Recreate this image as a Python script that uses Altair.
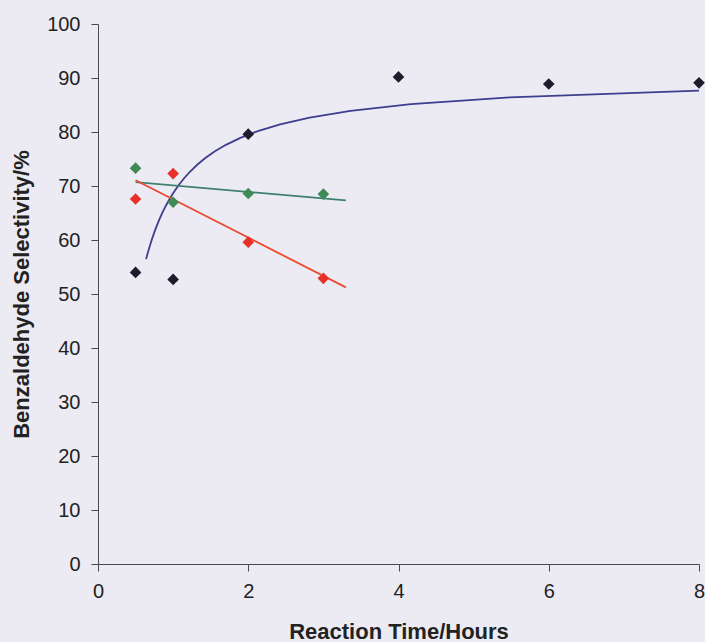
import altair as alt
import pandas as pd

# --- data ---
black_x = [0.5, 1, 2, 4, 6, 8]
black_y = [54.0, 52.7, 79.6, 90.2, 88.9, 89.1]

green_x = [0.5, 1, 2, 3]
green_y = [73.3, 67.0, 68.6, 68.5]

red_x = [0.5, 1, 2, 3]
red_y = [67.6, 72.3, 59.6, 52.9]

x_ticks = [0, 2, 4, 6, 8]
y_ticks = [0, 10, 20, 30, 40, 50, 60, 70, 80, 90, 100]

black = pd.DataFrame({"t": black_x, "sel": black_y})
green = pd.DataFrame({"t": green_x, "sel": green_y})
red = pd.DataFrame({"t": red_x, "sel": red_y})

FONT = "Liberation Sans"
AXIS_COLOR = "#4a4a4a"

xscale = alt.Scale(domain=[0, 8], nice=False, zero=False)
yscale = alt.Scale(domain=[0, 100], nice=False)

xaxis = alt.Axis(
    values=x_ticks, title="Reaction Time/Hours", grid=False,
    domainColor=AXIS_COLOR, tickColor=AXIS_COLOR, tickSize=7,
    labelFont=FONT, labelFontSize=20, labelColor="#222222", labelPadding=10,
    labelFlush=False,
    titleFont=FONT, titleFontSize=22, titleFontWeight="bold", titleColor="#222222",
    titleBaseline="alphabetic", titleY=74,
)
yaxis = alt.Axis(
    values=y_ticks, title="Benzaldehyde Selectivity/%", grid=False,
    domainColor=AXIS_COLOR, tickColor=AXIS_COLOR, tickSize=7,
    labelFont=FONT, labelFontSize=20, labelColor="#222222", labelPadding=11,
    labelFlush=False,
    titleFont=FONT, titleFontSize=22, titleFontWeight="bold", titleColor="#222222",
    titleAngle=-90, titleBaseline="alphabetic", titleAlign="center",
    titleX=-70, titleY=270,
)

X = alt.X("t:Q", scale=xscale, axis=xaxis)
Y = alt.Y("sel:Q", scale=yscale, axis=yaxis)

# fitted curve for black series (linear in 1/t)
curve = (
    alt.Chart(black)
    .transform_calculate(u="1 / datum.t")
    .transform_regression("u", "sel", method="poly", order=1, extent=[0.125, 1.5625])
    .transform_calculate(t="1 / datum.u")
    .mark_line(color="#3e3e8e", strokeWidth=1.8)
    .encode(x=X, y=Y, order="t:Q")
)

green_line = (
    alt.Chart(green)
    .transform_regression("t", "sel", method="linear", extent=[0.5, 3.3])
    .mark_line(color="#3f8070", strokeWidth=1.8)
    .encode(x=X, y=Y)
)
red_line = (
    alt.Chart(red)
    .transform_regression("t", "sel", method="linear", extent=[0.5, 3.3])
    .mark_line(color="#ec4a30", strokeWidth=1.8)
    .encode(x=X, y=Y)
)

def pts(df, color):
    return alt.Chart(df).mark_point(
        shape="diamond", filled=True, size=135, color=color, opacity=1
    ).encode(x=X, y=Y)

chart = (
    alt.layer(
        curve, green_line, red_line,
        pts(green, "#3f8a55"), pts(red, "#e8302a"), pts(black, "#1c1c2c"),
    )
    .properties(
        width=601, height=540,
        padding={"left": 98, "top": 24, "right": 6, "bottom": 78},
        autosize=alt.AutoSizeParams(type="none"),
        background="#ecebf3",
    )
    .configure_view(stroke=None)
)

chart.save("out.html", embed_options={"renderer": "svg", "actions": False})
